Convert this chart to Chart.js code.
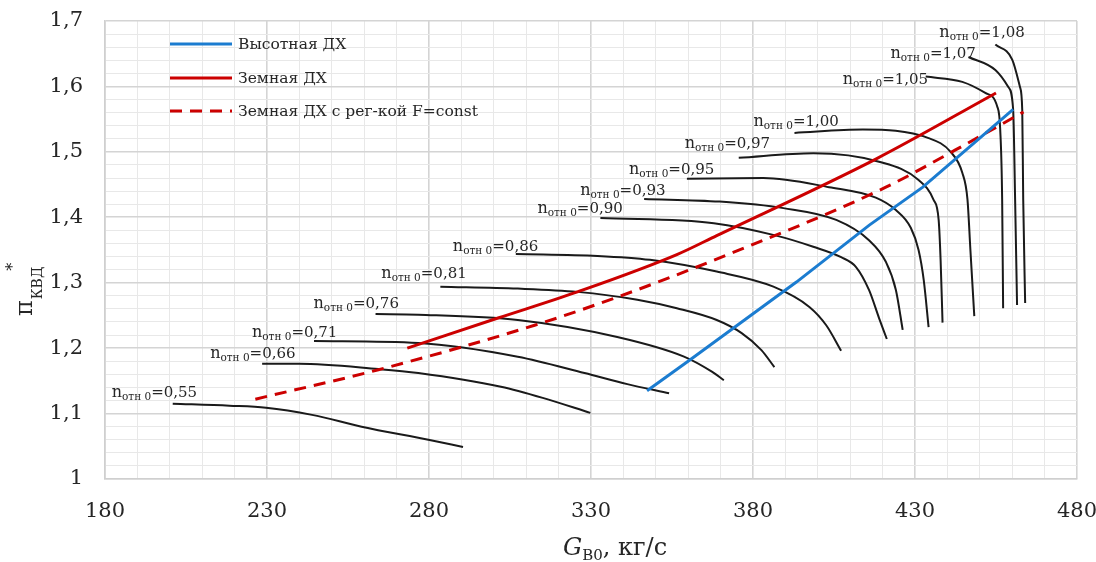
<!DOCTYPE html>
<html>
<head>
<meta charset="utf-8">
<script src="https://cdn.jsdelivr.net/npm/chart.js@4.4.1/dist/chart.umd.min.js"></script>
<style>
  html, body { margin: 0; padding: 0; background: #fff; }
  #chart { display: block; }
</style>
</head>
<body>
<canvas id="chart" width="1096" height="562"></canvas>
<script>
// tick labels
const xTickLabels = [180, 230, 280, 330, 380, 430, 480];
const yTickLabels = ["1", "1,1", "1,2", "1,3", "1,4", "1,5", "1,6", "1,7"];

const legendNames = ["Высотная ДХ", "Земная ДХ", "Земная ДХ с рег-кой F=const"];

// Высотная ДХ
const vysG = [347.3, 360.5, 393.4, 415.9, 432.4, 460.3];
const vysPi = [1.135, 1.182, 1.301, 1.388, 1.446, 1.565];
// Земная ДХ
const zemG = [273.3, 301.3, 325.8, 356.5, 368.8, 417.9, 455.0];
const zemPi = [1.200, 1.246, 1.286, 1.343, 1.372, 1.489, 1.590];
// Земная ДХ с рег-кой F=const
const zemFG = [226.4, 264.4, 312.6, 338.1, 366.7, 421.0, 442.5, 463.5];
const zemFPi = [1.122, 1.167, 1.235, 1.278, 1.332, 1.446, 1.503, 1.561];

// напорные ветки n отн 0
const nLabels = ["0,55", "0,66", "0,71", "0,76", "0,81", "0,86", "0,90", "0,93", "0,95", "0,97", "1,00", "1,05", "1,07", "1,08"];
const g055 = [200.9, 218.4, 229.7, 243.9, 259.2, 279.8, 290.5];
const pi055 = [1.115, 1.112, 1.109, 1.098, 1.080, 1.060, 1.049];
const g066 = [228.5, 239.9, 264.4, 276.7, 302.2, 315.1, 329.8];
const pi066 = [1.176, 1.176, 1.168, 1.162, 1.141, 1.124, 1.101];
const g071 = [244.5, 276.7, 307.4, 328.0, 341.2, 354.1];
const pi071 = [1.211, 1.208, 1.187, 1.162, 1.145, 1.131];
const g076 = [263.5, 276.7, 307.4, 338.1, 358.7, 367.3, 371.0];
const pi076 = [1.252, 1.251, 1.243, 1.217, 1.187, 1.164, 1.151];
const g081 = [283.5, 307.4, 325.8, 344.3, 356.5, 368.8, 376.5, 382.6, 386.6];
const pi081 = [1.294, 1.291, 1.286, 1.274, 1.261, 1.243, 1.223, 1.197, 1.171];
const g086 = [306.8, 332.0, 348.2, 368.8, 386.3, 397.4, 402.6, 407.2];
const pi086 = [1.344, 1.341, 1.335, 1.317, 1.294, 1.263, 1.235, 1.196];
const g090 = [332.9, 367.9, 387.2, 398.6, 407.2, 411.8, 415.8, 418.9, 421.3];
const pi090 = [1.399, 1.391, 1.372, 1.355, 1.339, 1.324, 1.289, 1.246, 1.214];
const g093 = [346.4, 369.7, 389.4, 405.7, 415.8, 421.0, 424.1, 426.2];
const pi093 = [1.428, 1.424, 1.414, 1.396, 1.365, 1.332, 1.289, 1.228];
const g095 = [359.6, 383.2, 403.5, 417.9, 424.1, 428.7, 431.1, 432.7, 434.2];
const pi095 = [1.459, 1.460, 1.446, 1.430, 1.411, 1.384, 1.350, 1.304, 1.232];
const g097 = [375.6, 398.6, 418.9, 431.1, 435.7, 437.3, 437.9, 438.5];
const pi097 = [1.491, 1.498, 1.485, 1.457, 1.427, 1.396, 1.335, 1.239];
const g100 = [392.8, 413.9, 434.2, 441.0, 444.6, 446.2, 447.1, 448.3];
const pi100 = [1.529, 1.534, 1.521, 1.500, 1.468, 1.427, 1.350, 1.249];
const g105 = [433.3, 444.6, 451.7, 455.4, 456.3, 456.9, 457.2];
const pi105 = [1.615, 1.607, 1.590, 1.569, 1.534, 1.427, 1.261];
const g107 = [446.5, 454.8, 458.8, 460.3, 460.9, 461.5];
const pi107 = [1.645, 1.625, 1.599, 1.564, 1.427, 1.266];
const g108 = [454.8, 460.0, 462.4, 463.1, 463.4, 464.0];
const pi108 = [1.664, 1.641, 1.599, 1.564, 1.427, 1.269];

const curveG = [g055, g066, g071, g076, g081, g086, g090, g093, g095, g097, g100, g105, g107, g108];
const curvePi = [pi055, pi066, pi071, pi076, pi081, pi086, pi090, pi093, pi095, pi097, pi100, pi105, pi107, pi108];

// where each label sits relative to the start of its curve (px)
const labelOffsets = [[-61, -12], [-52, -11], [-62, -9], [-62, -11], [-59, -14], [-63, -8], [-63, -10],
  [-64, -9], [-58, -10], [-54, -15], [-41, -12], [-83, 2], [-78, -4], [-56, -13]];

const FONT = "'DejaVu Serif', serif";
const BLUE = "#1b7cd0";
const RED = "#cc0000";

function toPoints(xs, ys) {
  return xs.map((x, i) => ({ x: x, y: ys[i] }));
}

const datasets = [
  { label: legendNames[0], data: toPoints(vysG, vysPi), borderColor: BLUE, borderWidth: 3, tension: 0 },
  { label: legendNames[1], data: toPoints(zemG, zemPi), borderColor: RED, borderWidth: 3, cubicInterpolationMode: "monotone" },
  { label: legendNames[2], data: toPoints(zemFG, zemFPi), borderColor: RED, borderWidth: 3, borderDash: [12, 8], cubicInterpolationMode: "monotone" },
];
curveG.forEach((g, i) => {
  datasets.push({
    label: "n " + nLabels[i],
    data: toPoints(g, curvePi[i]),
    borderColor: "#1a1a1a",
    borderWidth: 2,
    cubicInterpolationMode: "monotone",
  });
});

// legend, curve labels and axis titles
const annotations = {
  id: "annotations",
  afterDraw(chart) {
    const ctx = chart.ctx;
    const xs = chart.scales.x, ys = chart.scales.y;
    ctx.save();
    ctx.fillStyle = "#262626";
    ctx.textBaseline = "alphabetic";
    ctx.textAlign = "left";

    // legend
    const legY = [44, 78, 111];
    legendNames.forEach((name, i) => {
      const ds = chart.data.datasets[i];
      ctx.strokeStyle = ds.borderColor;
      ctx.lineWidth = ds.borderWidth;
      ctx.setLineDash(ds.borderDash || []);
      ctx.beginPath();
      ctx.moveTo(170, legY[i]);
      ctx.lineTo(232, legY[i]);
      ctx.stroke();
      ctx.setLineDash([]);
      ctx.font = "15.5px " + FONT;
      ctx.fillText(name, 238, legY[i] + 5);
    });

    // curve labels "n отн 0=..."
    nLabels.forEach((lab, i) => {
      const px = xs.getPixelForValue(curveG[i][0]) + labelOffsets[i][0];
      const py = ys.getPixelForValue(curvePi[i][0]) + labelOffsets[i][1] + 5;
      let x = px;
      ctx.font = "16px " + FONT;
      ctx.fillText("n", x, py);
      x += ctx.measureText("n").width;
      ctx.font = "10.5px " + FONT;
      ctx.fillText("отн 0", x, py + 3);
      x += ctx.measureText("отн 0").width;
      ctx.font = "15px " + FONT;
      ctx.fillText("=" + lab, x, py);
    });

    // x title
    let x = 563;
    const by = 555;
    ctx.font = "italic 24px " + FONT;
    ctx.fillText("G", x, by);
    x += ctx.measureText("G").width;
    ctx.font = "15px " + FONT;
    ctx.fillText("В0", x, by + 5);
    x += ctx.measureText("В0").width;
    ctx.font = "24px " + FONT;
    ctx.fillText(", кг/с", x, by);

    // y title (rotated)
    ctx.translate(32, 316);
    ctx.rotate(-Math.PI / 2);
    ctx.font = "24px " + FONT;
    ctx.fillText("π", 0, 0);
    let t = ctx.measureText("π").width + 1;
    ctx.font = "14px " + FONT;
    ctx.fillText("КВД", t, 10);
    t += ctx.measureText("КВД").width;
    ctx.font = "16px " + FONT;
    ctx.fillText("*", t - 4, -14);
    ctx.restore();
  },
};

new Chart(document.getElementById("chart"), {
  type: "line",
  data: { datasets: datasets },
  options: {
    responsive: false,
    animation: false,
    devicePixelRatio: 1,
    layout: { padding: { top: 21, right: 19, left: 0, bottom: 0 } },
    elements: { point: { radius: 0 }, line: { fill: false } },
    plugins: { legend: { display: false }, tooltip: { enabled: false } },
    scales: {
      x: {
        type: "linear",
        min: 180,
        max: 480,
        afterFit(scale) { scale.height = 83; scale.paddingLeft = 0; scale.paddingRight = 0; },
        ticks: {
          stepSize: 10,
          autoSkip: false,
          maxRotation: 0,
          padding: 20,
          color: "#262626",
          font: { family: FONT, size: 21 },
          callback: (v) => (xTickLabels.includes(v) ? String(v) : ""),
        },
        grid: {
          drawTicks: false,
          color: (c) => (xTickLabels.includes(c.tick.value) ? "#d4d4d4" : "#e8e8e8"),
          lineWidth: (c) => (xTickLabels.includes(c.tick.value) ? 1.6 : 1),
        },
        border: { display: true, color: "#cfcfcf", width: 1.6 },
      },
      y: {
        min: 1,
        max: 1.7,
        afterFit(scale) { scale.width = 105; scale.paddingTop = 0; scale.paddingBottom = 0; },
        ticks: {
          stepSize: 0.02,
          autoSkip: false,
          padding: 22,
          color: "#262626",
          font: { family: FONT, size: 21 },
          callback: (v) => {
            const r = Math.round(v * 100);
            return r % 10 === 0 ? yTickLabels[r / 10 - 10] : "";
          },
        },
        grid: {
          drawTicks: false,
          color: (c) => (Math.round(c.tick.value * 100) % 10 === 0 ? "#d4d4d4" : "#e8e8e8"),
          lineWidth: (c) => (Math.round(c.tick.value * 100) % 10 === 0 ? 1.6 : 1),
        },
        border: { display: true, color: "#cfcfcf", width: 1.6 },
      },
    },
  },
  plugins: [annotations],
});
</script>
</body>
</html>
